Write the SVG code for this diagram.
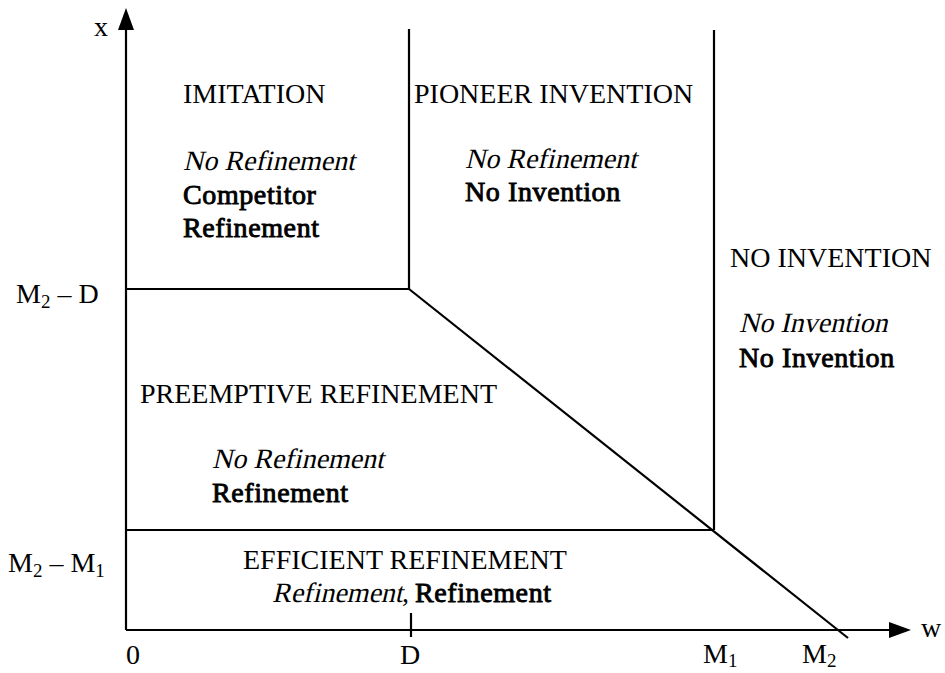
<svg xmlns="http://www.w3.org/2000/svg" width="945" height="673" viewBox="0 0 945 673">
<style>
  .ln { stroke: #000; stroke-width: 2.2; fill: none; }
  .bd { stroke: #000; stroke-width: 0.9; letter-spacing: 0.6px; }
</style>
<defs>
  <marker id="arr" markerUnits="userSpaceOnUse" markerWidth="22" markerHeight="16" refX="11" refY="8" orient="auto">
    <path d="M0,0 L22,8 L0,16 z" fill="#000"/>
  </marker>
</defs>
<rect width="945" height="673" fill="#fff"/>

<g id="connectors">
  <line class="ln" x1="126" y1="630" x2="126" y2="19" marker-end="url(#arr)"/>
  <line class="ln" x1="126" y1="630" x2="900" y2="630" marker-end="url(#arr)"/>
  <line class="ln" x1="409" y1="29" x2="409" y2="289"/>
  <line class="ln" x1="126" y1="289" x2="409" y2="289"/>
  <line class="ln" x1="409" y1="289" x2="848" y2="638"/>
  <line class="ln" x1="714" y1="30" x2="714" y2="530"/>
  <line class="ln" x1="126" y1="530" x2="714" y2="530"/>
  <line class="ln" x1="411" y1="613" x2="411" y2="637"/>
</g>

<g font-size="28" font-family="Liberation Serif" fill="#000">
<g id="imitation">
  <text x="183" y="103">IMITATION</text>
  <text transform="translate(183,170) skewX(-13)">No Refinement</text>
  <text class="bd" x="183" y="204">Competitor</text>
  <text class="bd" x="183" y="237">Refinement</text>
</g>

<g id="pioneer-invention">
  <text x="414" y="103">PIONEER INVENTION</text>
  <text transform="translate(465,168) skewX(-13)">No Refinement</text>
  <text class="bd" x="465" y="201">No Invention</text>
</g>

<g id="no-invention">
  <text x="730" y="267">NO INVENTION</text>
  <text transform="translate(739,332) skewX(-13)">No Invention</text>
  <text class="bd" x="739" y="367">No Invention</text>
</g>

<g id="preemptive-refinement">
  <text x="140" y="403">PREEMPTIVE REFINEMENT</text>
  <text transform="translate(212,468) skewX(-13)">No Refinement</text>
  <text class="bd" x="212" y="502">Refinement</text>
</g>

<g id="efficient-refinement">
  <text x="243" y="569">EFFICIENT REFINEMENT</text>
  <text transform="translate(272,602) skewX(-13)">Refinement</text>
  <text x="402" y="602">,</text>
  <text class="bd" x="415" y="602">Refinement</text>
</g>

<g id="axis-labels">
  <text x="94" y="36">x</text>
  <text x="921" y="637">w</text>
  <text x="16" y="303">M<tspan font-size="19" dy="5">2</tspan><tspan dy="-5"> – D</tspan></text>
  <text x="8" y="572">M<tspan font-size="19" dy="5">2</tspan><tspan dy="-5"> – M</tspan><tspan font-size="19" dy="5">1</tspan></text>
  <text x="126" y="664">0</text>
  <text x="400" y="664">D</text>
  <text x="703" y="663">M<tspan font-size="19" dy="4">1</tspan></text>
  <text x="802" y="663">M<tspan font-size="19" dy="4">2</tspan></text>
</g>
</g>
</svg>
